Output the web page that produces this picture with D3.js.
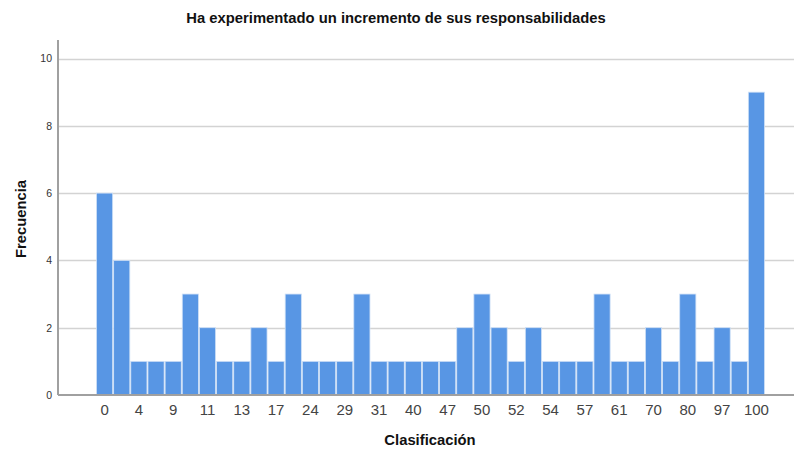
<!DOCTYPE html>
<html><head><meta charset="utf-8">
<script src="https://cdn.jsdelivr.net/npm/d3@7"></script>
<style>body{margin:0;background:#fff}svg{display:block}</style>
</head><body>
<svg id="c" width="794" height="450"></svg>
<script>
const categories = ["0","2","4","5","9","10","11","12","13","15","17","20","24","25","29","30","31","35","40","45","47","49","50","51","52","53","54","55","57","60","61","65","70","75","80","90","97","99","100"];
const frequencies = [6,4,1,1,1,3,2,1,1,2,1,3,1,1,1,3,1,1,1,1,1,2,3,2,1,2,1,1,1,3,1,1,2,1,3,1,2,1,9];
const yTicks = [0,2,4,6,8,10];
const title = "Ha experimentado un incremento de sus responsabilidades";
const xTitle = "Clasificación";
const yTitle = "Frecuencia";

(function(){
const svg = d3.select("#c");
const font = "Liberation Sans, Arial, sans-serif";
const pL = 58, pR = 794, pT = 40, pB = 395;

const x = d3.scaleBand().domain(categories).range([96, 765]).paddingInner(0).paddingOuter(0);
const y = d3.scaleLinear().domain([0, 10.55]).range([pB, pT]);

svg.append("g").selectAll("line").data(yTicks.filter(d=>d>0)).join("line")
  .attr("x1", pL).attr("x2", pR)
  .attr("y1", d=>Math.round(y(d))+0.5).attr("y2", d=>Math.round(y(d))+0.5)
  .attr("stroke", "#d3d3d3").attr("stroke-width", 1.5);

svg.append("g").selectAll("rect").data(frequencies).join("rect")
  .attr("x", (d,i)=>x(categories[i])+0.5)
  .attr("width", x.bandwidth()-1)
  .attr("y", d=>y(d))
  .attr("height", d=>pB - y(d))
  .attr("fill", "#5896e4")
  .attr("stroke", "#cfe0f6").attr("stroke-width", 0.8);

svg.append("line").attr("x1", pL).attr("x2", pL).attr("y1", pT).attr("y2", pB)
  .attr("stroke", "#a0a0a0").attr("stroke-width", 2);
svg.append("line").attr("x1", pL).attr("x2", pR).attr("y1", pB).attr("y2", pB)
  .attr("stroke", "#a0a0a0").attr("stroke-width", 2);

const yAxis = d3.axisLeft(y).tickValues(yTicks).tickSize(0).tickPadding(0).tickFormat(d3.format("d"));
const ya = svg.append("g").attr("transform", `translate(${pL-6},0)`).call(yAxis);
ya.select(".domain").remove();
ya.selectAll("text").attr("font-family", font).attr("font-size", 10.5).attr("fill", "#333");

const xAxis = d3.axisBottom(x).tickValues(categories.filter((d,i)=>i%2===0)).tickSize(0).tickPadding(0);
const xa = svg.append("g").attr("transform", `translate(0,${pB+8})`).call(xAxis);
xa.select(".domain").remove();
xa.selectAll("text").attr("font-family", font).attr("font-size", 15).attr("fill", "#444").attr("dy", "0.8em");

svg.append("text").attr("x", 396).attr("y", 23).attr("text-anchor", "middle")
  .attr("font-family", font).attr("font-weight", "bold").attr("font-size", 14.8).attr("fill", "#111").text(title);
svg.append("text").attr("x", 430).attr("y", 445).attr("text-anchor", "middle")
  .attr("font-family", font).attr("font-weight", "bold").attr("font-size", 14.8).attr("fill", "#111").text(xTitle);
svg.append("text").attr("transform", "translate(26,219) rotate(-90)").attr("text-anchor", "middle")
  .attr("font-family", font).attr("font-weight", "bold").attr("font-size", 14.8).attr("fill", "#111").text(yTitle);
})();
</script>
</body></html>
